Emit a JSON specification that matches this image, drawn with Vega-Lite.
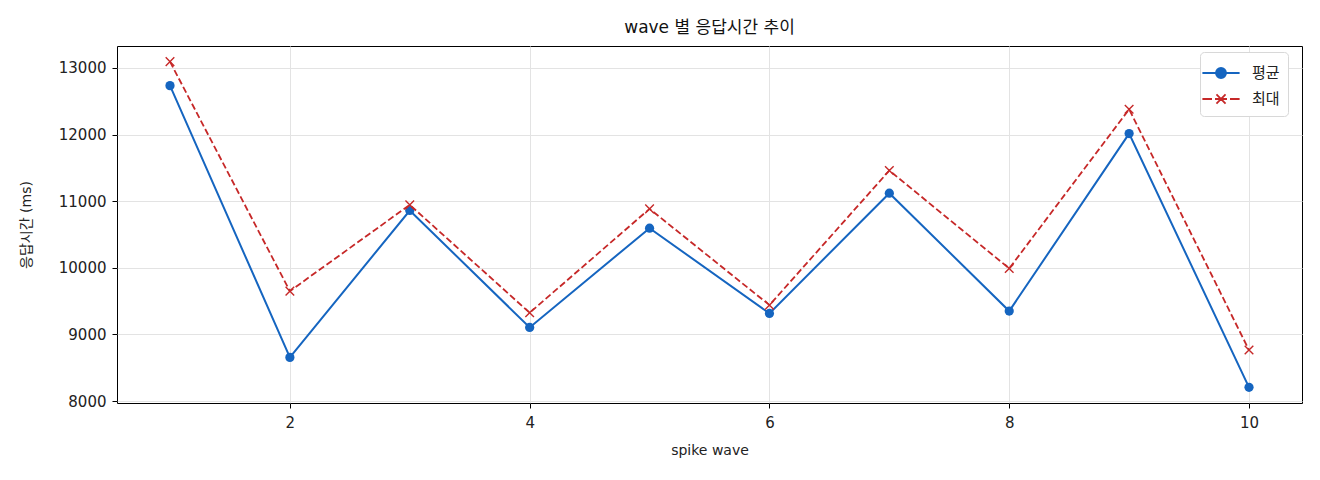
{
  "$schema": "https://vega.github.io/schema/vega-lite/v6.json",
  "width": 1185,
  "height": 357,
  "autosize": {"type": "none"},
  "padding": {"left": 117, "top": 46, "right": 18, "bottom": 77},
  "config": {
    "background": "white",
    "font": "DejaVu Sans, Noto Sans CJK KR",
    "view": {"stroke": "black", "strokeWidth": 1},
    "axis": {
      "domain": false,
      "tickColor": "black",
      "tickSize": 5,
      "labelColor": "#222222",
      "labelFont": "DejaVu Sans, Noto Sans CJK KR",
      "labelFontSize": 15,
      "titleFont": "DejaVu Sans, Noto Sans CJK KR",
      "titleFontSize": 14,
      "titleFontWeight": "normal",
      "titleColor": "#222222",
      "gridColor": "#e3e3e3",
      "gridWidth": 1
    }
  },
  "title": {
    "text": "wave 별 응답시간 추이",
    "font": "DejaVu Sans, Noto Sans CJK KR",
    "fontSize": 17,
    "fontWeight": "normal",
    "color": "#111111",
    "anchor": "middle",
    "offset": 9
  },
  "data": {
    "values": [
      {"wave": 1, "series": "평균", "ms": 12735},
      {"wave": 2, "series": "평균", "ms": 8655},
      {"wave": 3, "series": "평균", "ms": 10860},
      {"wave": 4, "series": "평균", "ms": 9105},
      {"wave": 5, "series": "평균", "ms": 10595},
      {"wave": 6, "series": "평균", "ms": 9315},
      {"wave": 7, "series": "평균", "ms": 11120},
      {"wave": 8, "series": "평균", "ms": 9350},
      {"wave": 9, "series": "평균", "ms": 12015},
      {"wave": 10, "series": "평균", "ms": 8205},
      {"wave": 1, "series": "최대", "ms": 13095},
      {"wave": 2, "series": "최대", "ms": 9650},
      {"wave": 3, "series": "최대", "ms": 10945},
      {"wave": 4, "series": "최대", "ms": 9325},
      {"wave": 5, "series": "최대", "ms": 10885},
      {"wave": 6, "series": "최대", "ms": 9440},
      {"wave": 7, "series": "최대", "ms": 11460},
      {"wave": 8, "series": "최대", "ms": 9990},
      {"wave": 9, "series": "최대", "ms": 12380},
      {"wave": 10, "series": "최대", "ms": 8765}
    ]
  },
  "encoding": {
    "x": {
      "field": "wave",
      "type": "quantitative",
      "title": "spike wave",
      "scale": {"domain": [0.558, 10.442], "nice": false, "zero": false},
      "axis": {"values": [2, 4, 6, 8, 10], "format": "d", "labelPadding": 7, "titlePadding": 13}
    },
    "y": {
      "field": "ms",
      "type": "quantitative",
      "title": "응답시간 (ms)",
      "scale": {"domain": [7970, 13330], "nice": false, "zero": false},
      "axis": {"values": [8000, 9000, 10000, 11000, 12000, 13000], "format": "d", "labelPadding": 6, "titlePadding": 25}
    },
    "color": {
      "field": "series",
      "type": "nominal",
      "scale": {"domain": ["평균", "최대"], "range": ["#1565c0", "#c62828"]},
      "legend": {
        "orient": "none",
        "legendX": 1083,
        "legendY": 6,
        "title": null,
        "labelFont": "DejaVu Sans, Noto Sans CJK KR",
        "labelFontSize": 15,
        "labelColor": "#222222",
        "labelOffset": 18,
        "symbolSize": 576,
        "symbolStrokeWidth": 1.8,
        "rowPadding": 4,
        "padding": 8,
        "strokeColor": "#d8d8d8",
        "fillColor": "white",
        "cornerRadius": 4,
        "encode": {
          "symbols": {
            "update": {
              "shape": {"signal": "datum.value == '평균' ? 'M-1.55,0H1.55M-0.42,0A0.42,0.42 0 1,1 0.42,0A0.42,0.42 0 1,1 -0.42,0Z' : 'M-1.55,0H-0.75M-0.5,0H0.5M0.75,0H1.55M-0.38,-0.38L0.38,0.38M-0.38,0.38L0.38,-0.38'"},
              "fill": {"signal": "datum.value == '평균' ? '#1565c0' : 'transparent'"},
              "strokeWidth": {"value": 1.8}
            }
          }
        }
      }
    }
  },
  "layer": [
    {
      "transform": [{"filter": "datum.series == '평균'"}],
      "mark": {"type": "line", "strokeWidth": 2}
    },
    {
      "transform": [{"filter": "datum.series == '평균'"}],
      "mark": {"type": "point", "shape": "circle", "filled": true, "size": 85, "opacity": 1}
    },
    {
      "transform": [{"filter": "datum.series == '최대'"}],
      "mark": {"type": "line", "strokeWidth": 1.8, "strokeDash": [6.5, 3]}
    },
    {
      "transform": [{"filter": "datum.series == '최대'"}],
      "mark": {"type": "point", "shape": "M-1,-1L1,1M-1,1L1,-1", "filled": false, "size": 74, "strokeWidth": 1.4, "opacity": 1}
    }
  ]
}
